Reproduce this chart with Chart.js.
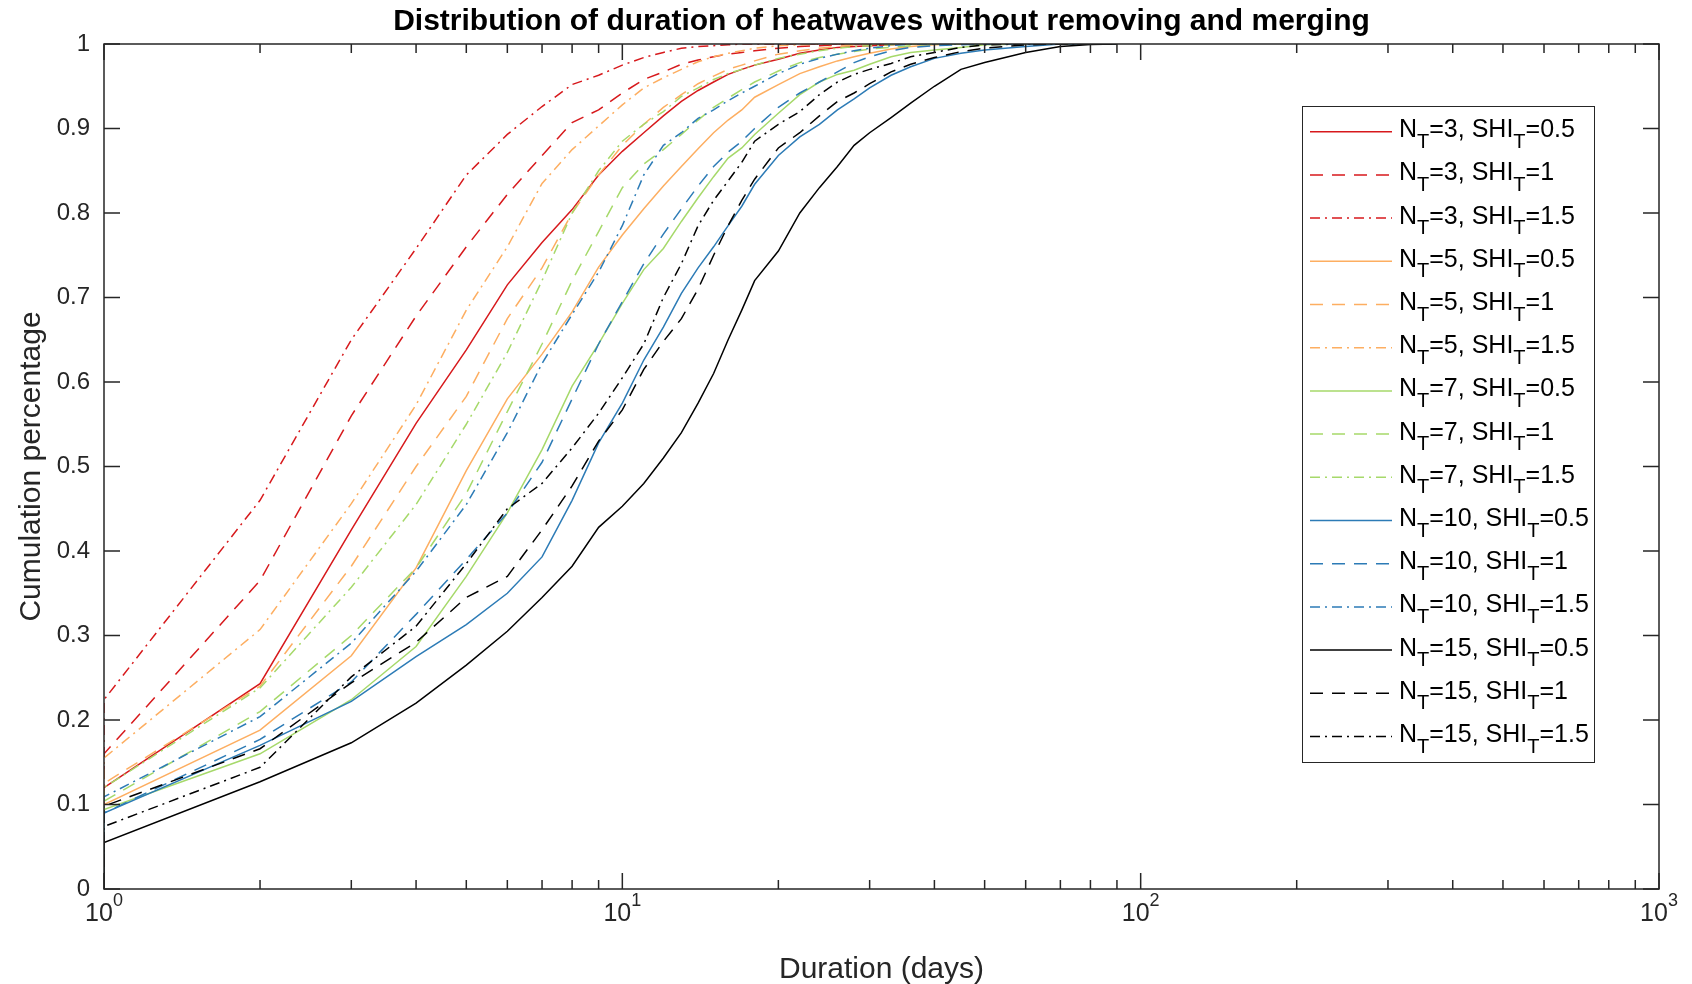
<!DOCTYPE html>
<html>
<head>
<meta charset="utf-8">
<script src="https://cdn.jsdelivr.net/npm/chart.js@4.4.0/dist/chart.umd.min.js"></script>
<style>
  html, body { margin: 0; padding: 0; background: #fff; }
</style>
</head>
<body>
<canvas id="cdf" width="1692" height="984"></canvas>
<script>
// durations (days) where the cumulative curves are sampled; first point is the ecdf start at 0
const days = [1, 1,
  2, 3, 4, 5, 6, 7, 8, 9,
  10, 11, 12, 13, 14, 15, 16, 17, 18,
  20, 22, 24, 26, 28, 30,
  33, 36, 40, 45, 50,
  60, 70, 80, 90];

const cdf_n3_s05 = [0, 0.12,
  0.243, 0.425, 0.551, 0.638, 0.715, 0.765, 0.804, 0.845,
  0.873, 0.895, 0.915, 0.932, 0.945, 0.955, 0.964, 0.970, 0.975,
  0.982, 0.989, 0.993, 0.996, 0.997, 0.998,
  0.999, 1, 1, 1, 1,
  1, 1, 1, 1];
const cdf_n3_s1 = [0, 0.16,
  0.365, 0.56, 0.678, 0.76, 0.822, 0.868, 0.907, 0.922,
  0.942, 0.958, 0.967, 0.976, 0.981, 0.985, 0.988, 0.99, 0.992,
  0.995, 0.997, 0.998, 0.999, 1, 1,
  1, 1, 1, 1, 1,
  1, 1, 1, 1];
const cdf_n3_s15 = [0, 0.224,
  0.46, 0.65, 0.758, 0.845, 0.893, 0.926, 0.952, 0.963,
  0.975, 0.984, 0.99, 0.995, 0.997, 0.998, 0.999, 1, 1,
  1, 1, 1, 1, 1, 1,
  1, 1, 1, 1, 1,
  1, 1, 1, 1];
const cdf_n5_s05 = [0, 0.10,
  0.188, 0.276, 0.38, 0.495, 0.58, 0.633, 0.683, 0.736,
  0.774, 0.805, 0.832, 0.855, 0.876, 0.895, 0.91, 0.922, 0.937,
  0.952, 0.965, 0.973, 0.98, 0.985, 0.989,
  0.994, 0.997, 0.999, 1, 1,
  1, 1, 1, 1];
const cdf_n5_s1 = [0, 0.125,
  0.24, 0.382, 0.50, 0.583, 0.675, 0.735, 0.80, 0.845,
  0.88, 0.905, 0.925, 0.94, 0.953, 0.962, 0.97, 0.975, 0.98,
  0.988, 0.992, 0.995, 0.997, 0.999, 1,
  1, 1, 1, 1, 1,
  1, 1, 1, 1];
const cdf_n5_s15 = [0, 0.155,
  0.307, 0.456, 0.573, 0.685, 0.76, 0.835, 0.875, 0.903,
  0.928, 0.948, 0.96, 0.97, 0.979, 0.985, 0.989, 0.992, 0.995,
  0.998, 0.999, 1, 1, 1, 1,
  1, 1, 1, 1, 1,
  1, 1, 1, 1];
const cdf_n7_s05 = [0, 0.094,
  0.16, 0.224, 0.287, 0.37, 0.445, 0.52, 0.595, 0.645,
  0.693, 0.733, 0.758, 0.79, 0.818, 0.843, 0.865, 0.877, 0.893,
  0.918, 0.94, 0.955, 0.964, 0.969, 0.976,
  0.985, 0.99, 0.993, 0.996, 0.999,
  1, 1, 1, 1];
const cdf_n7_s1 = [0, 0.104,
  0.21, 0.30, 0.38, 0.468, 0.565, 0.645, 0.72, 0.778,
  0.83, 0.858, 0.875, 0.893, 0.91, 0.925, 0.936, 0.946, 0.955,
  0.968, 0.978, 0.984, 0.988, 0.991, 0.994,
  0.996, 0.998, 1, 1, 1,
  1, 1, 1, 1];
const cdf_n7_s15 = [0, 0.12,
  0.238, 0.357, 0.455, 0.55, 0.635, 0.72, 0.80, 0.85,
  0.885, 0.905, 0.92, 0.938, 0.948, 0.958, 0.965, 0.97, 0.975,
  0.983, 0.988, 0.992, 0.995, 0.997, 0.998,
  0.999, 1, 1, 1, 1,
  1, 1, 1, 1];
const cdf_n10_s05 = [0, 0.09,
  0.17, 0.222, 0.275, 0.313, 0.35, 0.393, 0.46, 0.528,
  0.575, 0.626, 0.665, 0.705, 0.735, 0.76, 0.785, 0.808, 0.834,
  0.868, 0.89, 0.905, 0.922, 0.935, 0.948,
  0.963, 0.973, 0.983, 0.989, 0.993,
  0.997, 1, 1, 1];
const cdf_n10_s1 = [0, 0.09,
  0.177, 0.245, 0.325, 0.39, 0.445, 0.505, 0.58, 0.645,
  0.695, 0.74, 0.775, 0.805, 0.832, 0.855, 0.872, 0.885, 0.9,
  0.925, 0.942, 0.955, 0.967, 0.978, 0.985,
  0.992, 0.996, 0.998, 0.999, 1,
  1, 1, 1, 1];
const cdf_n10_s15 = [0, 0.109,
  0.204, 0.291, 0.376, 0.455, 0.54, 0.622, 0.68, 0.73,
  0.785, 0.845, 0.88, 0.895, 0.912, 0.922, 0.933, 0.942, 0.95,
  0.965, 0.976, 0.983, 0.988, 0.992, 0.995,
  0.998, 1, 1, 1, 1,
  1, 1, 1, 1];
const cdf_n15_s05 = [0, 0.055,
  0.127, 0.173, 0.22, 0.265, 0.305, 0.345, 0.382, 0.428,
  0.453, 0.48, 0.51, 0.54, 0.575, 0.61, 0.65, 0.685, 0.72,
  0.755, 0.80, 0.83, 0.855, 0.88, 0.895,
  0.913, 0.93, 0.95, 0.97, 0.978,
  0.99, 0.997, 0.9995, 1];
const cdf_n15_s1 = [0, 0.098,
  0.166, 0.244, 0.292, 0.345, 0.37, 0.425, 0.477, 0.53,
  0.567, 0.615, 0.648, 0.675, 0.71, 0.75, 0.785, 0.815, 0.84,
  0.877, 0.895, 0.915, 0.932, 0.942, 0.953,
  0.967, 0.976, 0.984, 0.991, 0.995,
  0.999, 1, 1, 1];
const cdf_n15_s15 = [0, 0.074,
  0.144, 0.251, 0.311, 0.385, 0.45, 0.48, 0.522, 0.563,
  0.605, 0.645, 0.70, 0.74, 0.785, 0.815, 0.838, 0.86, 0.885,
  0.905, 0.92, 0.94, 0.955, 0.964, 0.97,
  0.977, 0.985, 0.99, 0.996, 0.999,
  1, 1, 1, 1];

const seriesValues = [cdf_n3_s05, cdf_n3_s1, cdf_n3_s15,
  cdf_n5_s05, cdf_n5_s1, cdf_n5_s15,
  cdf_n7_s05, cdf_n7_s1, cdf_n7_s15,
  cdf_n10_s05, cdf_n10_s1, cdf_n10_s15,
  cdf_n15_s05, cdf_n15_s1, cdf_n15_s15];
const seriesN = ['3', '3', '3', '5', '5', '5', '7', '7', '7', '10', '10', '10', '15', '15', '15'];
const seriesShi = ['0.5', '1', '1.5', '0.5', '1', '1.5', '0.5', '1', '1.5', '0.5', '1', '1.5', '0.5', '1', '1.5'];

const yTicks = [0, 0.1, 0.2, 0.3, 0.4, 0.5, 0.6, 0.7, 0.8, 0.9, 1];
const yTickLabels = ['0', '0.1', '0.2', '0.3', '0.4', '0.5', '0.6', '0.7', '0.8', '0.9', '1'];
const xMajorTicks = [1, 10, 100, 1000];
const xTickExponents = ['0', '1', '2', '3'];
const xMinorTicks = [2, 3, 4, 5, 6, 7, 8, 9, 20, 30, 40, 50, 60, 70, 80, 90, 200, 300, 400, 500, 600, 700, 800, 900];

const colorByN = { '3': '#d7191c', '5': '#fdae61', '7': '#a6d96a', '10': '#2c7bb6', '15': '#000000' };
const dashByShi = { '0.5': [], '1': [13, 9], '1.5': [10, 5, 2, 5] };
const FONT = "'Liberation Sans', Arial, sans-serif";
const INK = '#262626';

const datasets = seriesValues.map((vals, i) => ({
  label: 'N_T=' + seriesN[i] + ', SHI_T=' + seriesShi[i],
  data: days.map((d, k) => ({ x: d, y: vals[k] })),
  borderColor: colorByN[seriesN[i]],
  borderDash: dashByShi[seriesShi[i]],
  borderWidth: 1.5,
  pointRadius: 0,
  tension: 0,
  fill: false,
  order: seriesValues.length - i
}));

function drawText(ctx, str, x, y, size, opts) {
  opts = opts || {};
  ctx.save();
  ctx.font = (opts.bold ? 'bold ' : '') + size + 'px ' + FONT;
  ctx.fillStyle = opts.color || INK;
  ctx.textAlign = opts.align || 'left';
  ctx.textBaseline = opts.baseline || 'alphabetic';
  ctx.translate(x, y);
  if (opts.rotate) ctx.rotate(opts.rotate);
  ctx.fillText(str, 0, 0);
  ctx.restore();
}

function textWidth(ctx, str, size) {
  ctx.save();
  ctx.font = size + 'px ' + FONT;
  const w = ctx.measureText(str).width;
  ctx.restore();
  return w;
}

const axesPlugin = {
  id: 'matlabAxes',
  afterDatasetsDraw(chart) {
    const ctx = chart.ctx;
    const { left, right, top, bottom } = chart.chartArea;
    const xs = chart.scales.x, ys = chart.scales.y;

    // box
    ctx.save();
    ctx.strokeStyle = INK;
    ctx.lineWidth = 1.5;
    ctx.strokeRect(left, top, right - left, bottom - top);

    // inward ticks
    ctx.beginPath();
    yTicks.forEach(v => {
      const y = ys.getPixelForValue(v);
      ctx.moveTo(left, y); ctx.lineTo(left + 16, y);
      ctx.moveTo(right, y); ctx.lineTo(right - 16, y);
    });
    xMajorTicks.forEach(v => {
      const x = xs.getPixelForValue(v);
      ctx.moveTo(x, bottom); ctx.lineTo(x, bottom - 16);
      ctx.moveTo(x, top); ctx.lineTo(x, top + 16);
    });
    xMinorTicks.forEach(v => {
      const x = xs.getPixelForValue(v);
      ctx.moveTo(x, bottom); ctx.lineTo(x, bottom - 9);
      ctx.moveTo(x, top); ctx.lineTo(x, top + 9);
    });
    ctx.stroke();
    ctx.restore();

    // y tick labels
    yTicks.forEach((v, i) => {
      drawText(ctx, yTickLabels[i], left - 14, ys.getPixelForValue(v), 24, { align: 'right', baseline: 'middle' });
    });

    // x tick labels 10^k
    xMajorTicks.forEach((v, i) => {
      const x = xs.getPixelForValue(v);
      const wBase = textWidth(ctx, '10', 25);
      const wExp = textWidth(ctx, xTickExponents[i], 18);
      const x0 = x - (wBase + wExp) / 2;
      drawText(ctx, '10', x0, bottom + 32, 25);
      drawText(ctx, xTickExponents[i], x0 + wBase, bottom + 17, 18);
    });

    // titles
    const cx = (left + right) / 2;
    drawText(ctx, 'Distribution of duration of heatwaves without removing and merging', cx, 30, 30, { align: 'center', bold: true, color: '#000' });
    drawText(ctx, 'Duration (days)', cx, 978, 30, { align: 'center' });
    drawText(ctx, 'Cumulation percentage', 40, (top + bottom) / 2, 30, { align: 'center', rotate: -Math.PI / 2 });

    // legend
    const lx = 1302.5, ly = 106.5, lw = 292, lh = 656;
    ctx.save();
    ctx.fillStyle = '#fff';
    ctx.fillRect(lx, ly, lw, lh);
    ctx.strokeStyle = INK;
    ctx.lineWidth = 1;
    ctx.strokeRect(lx, ly, lw, lh);
    ctx.restore();
    datasets.forEach((ds, i) => {
      const y = 131.7 + i * 43.2;
      ctx.save();
      ctx.strokeStyle = ds.borderColor;
      ctx.lineWidth = 1.5;
      ctx.setLineDash(ds.borderDash);
      ctx.beginPath();
      ctx.moveTo(1310, y); ctx.lineTo(1392, y);
      ctx.stroke();
      ctx.restore();
      const parts = [['N', false], ['T', true], ['=' + seriesN[i] + ', SHI', false], ['T', true], ['=' + seriesShi[i], false]];
      let x = 1399;
      parts.forEach(([s, sub]) => {
        const size = sub ? 20 : 25;
        drawText(ctx, s, x, y + (sub ? 16 : 5.5), size, { color: '#000' });
        x += textWidth(ctx, s, size);
      });
    });
  }
};

new Chart(document.getElementById('cdf').getContext('2d'), {
  type: 'line',
  data: { datasets },
  options: {
    responsive: false,
    animation: false,
    layout: { padding: { left: 104, right: 33, top: 44, bottom: 95 } },
    scales: {
      x: { type: 'logarithmic', min: 1, max: 1000, display: false },
      y: { type: 'linear', min: 0, max: 1, display: false }
    },
    plugins: {
      legend: { display: false },
      tooltip: { enabled: false },
      title: { display: false }
    }
  },
  plugins: [axesPlugin]
});
</script>
</body>
</html>
